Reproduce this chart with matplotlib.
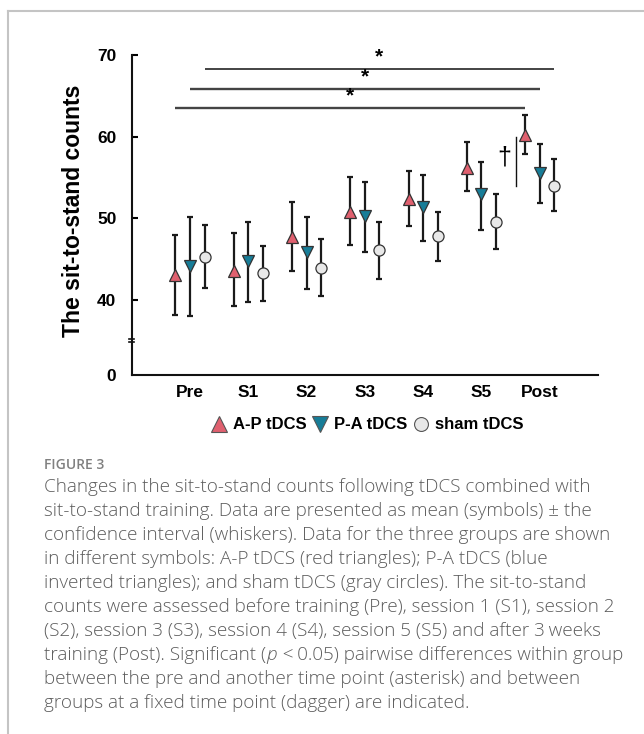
import matplotlib
matplotlib.use("Agg")
import matplotlib.pyplot as plt
from matplotlib.lines import Line2D
import numpy as np

# ---------------- data ----------------
categories = ["Pre", "S1", "S2", "S3", "S4", "S5", "Post"]
groups = ["A-P tDCS", "P-A tDCS", "sham tDCS"]

ap_mean = [43.0, 43.6, 47.7, 50.8, 52.4, 56.2, 60.2]
ap_low = [38.2, 39.2, 43.6, 46.7, 49.1, 53.3, 57.9]
ap_high = [48.0, 48.2, 52.0, 55.1, 55.8, 59.3, 62.6]

pa_mean = [44.2, 44.8, 45.9, 50.3, 51.4, 53.0, 55.6]
pa_low = [38.0, 39.8, 41.3, 45.9, 47.2, 48.6, 51.9]
pa_high = [50.2, 49.6, 50.2, 54.4, 55.3, 56.9, 59.1]

sham_mean = [45.3, 43.3, 43.9, 46.1, 47.8, 49.6, 54.0]
sham_low = [41.5, 39.9, 40.5, 42.6, 44.8, 46.2, 50.9]
sham_high = [49.2, 46.6, 47.4, 49.6, 50.8, 53.0, 57.2]

ytick_values = [40, 50, 60, 70]
ytick_labels = ["40", "50", "60", "70"]
axis_floor_value = 30.8      # position where the broken axis shows "0"
axis_floor_label = "0"
break_value = 35.0

# significance brackets (within group, Pre vs Post)
sig_levels = [63.5, 65.8, 68.25]   # A-P, P-A, sham
dagger_span = (54.0, 60.0)

caption_title = "FIGURE 3"
caption_lines = [
    "Changes in the sit-to-stand counts following tDCS combined with",
    "sit-to-stand training. Data are presented as mean (symbols) \u00b1 the",
    "confidence interval (whiskers). Data for the three groups are shown",
    "in different symbols: A-P tDCS (red triangles); P-A tDCS (blue",
    "inverted triangles); and sham tDCS (gray circles). The sit-to-stand",
    "counts were assessed before training (Pre), session 1 (S1), session 2",
    "(S2), session 3 (S3), session 4 (S4), session 5 (S5) and after 3\u2009weeks",
    ["training (Post). Significant (", "p", "\u2009<\u20090.05) pairwise differences within group"],
    "between the pre and another time point (asterisk) and between",
    "groups at a fixed time point (dagger) are indicated.",
]

# ---------------- style ----------------
W, H = 644, 734
fig = plt.figure(figsize=(W / 100, H / 100), dpi=100)
bold = dict(family=["Liberation Sans", "DejaVu Sans"], weight="bold")

ax_l, ax_r, ax_t, ax_b = 131.7, 598, 55, 375
ax = fig.add_axes([ax_l / W, 1 - ax_b / H, (ax_r - ax_l) / W, (ax_b - ax_t) / H])

x = np.arange(len(categories))
off = 0.25
series = [
    (ap_mean, ap_low, ap_high, -off, "^", "#e0606f"),
    (pa_mean, pa_low, pa_high, 0.0, "v", "#177d98"),
    (sham_mean, sham_low, sham_high, off, "o", "#e8e8e8"),
]
for mean, lo, hi, dx, mk, col in series:
    mean = np.array(mean); lo = np.array(lo); hi = np.array(hi)
    ax.errorbar(x + dx, mean, yerr=[mean - lo, hi - mean], fmt="none",
                ecolor="#1a1a1a", elinewidth=1.6, capsize=2.2, capthick=1.6, zorder=2)
    ax.plot(x + dx, mean, linestyle="none", marker=mk,
            markersize=8.5 if mk != "o" else 8,
            markerfacecolor=col, markeredgecolor="#333333", markeredgewidth=0.9, zorder=3)

# significance lines with asterisks
sig_colors = ["#444444", "#444444", "#111111"]
sig_lw = [1.7, 1.7, 1.1]
for i, (lvl, dx) in enumerate(zip(sig_levels, [-off, 0.0, off])):
    ax.plot([x[0] + dx, x[-1] + dx], [lvl, lvl], color=sig_colors[i], lw=sig_lw[i],
            solid_capstyle="butt", zorder=1)
    ax.text(x[3] + dx, lvl + 0.35, "*", ha="center", va="bottom",
            fontsize=15, **bold)

# dagger between groups at Post
ax.plot([x[-1] - 0.41, x[-1] - 0.41], dagger_span, color="#111111", lw=1.0)
ax.text(x[-1] - 0.61, np.mean(dagger_span) + 0.4, "\u2020", ha="center", va="center",
        fontsize=18, family=["Liberation Sans", "DejaVu Sans"])

ax.set_xlim(-1, 7)
ax.set_ylim(axis_floor_value, 70)
ax.set_xticks(x)
ax.set_xticklabels(categories)
ax.set_yticks([axis_floor_value] + ytick_values)
ax.set_yticklabels([axis_floor_label] + ytick_labels)
for lab in ax.get_xticklabels() + ax.get_yticklabels():
    lab.set_fontfamily(["Liberation Sans", "DejaVu Sans"])
    lab.set_fontweight("bold")
    lab.set_fontsize(12.5)
ax.tick_params(axis="x", length=0, pad=7)
ax.tick_params(axis="y", direction="in", length=4.5, width=1.5, pad=11)
ax.yaxis.get_major_ticks()[0].tick1line.set_visible(False)

for s in ["top", "right"]:
    ax.spines[s].set_visible(False)
for s in ["left", "bottom"]:
    ax.spines[s].set_linewidth(1.5)
    ax.spines[s].set_color("#111111")

ax.set_ylabel("The sit-to-stand counts", fontsize=16.5, **bold)
ax.yaxis.set_label_coords(-0.101, 0.5125)

# axis break mark
ybreak = ax.transAxes.inverted().transform(ax.transData.transform((0, break_value)))[1]
for d in (-0.0045, 0.0045):
    ax.plot([-0.006, 0.006], [ybreak + d, ybreak + d], transform=ax.transAxes,
            color="#111111", lw=1.2, clip_on=False)

# legend
handles = [
    Line2D([], [], linestyle="none", marker="^", markersize=11, markerfacecolor="#e0606f",
           markeredgecolor="#555555", markeredgewidth=0.8),
    Line2D([], [], linestyle="none", marker="v", markersize=11, markerfacecolor="#177d98",
           markeredgecolor="#555555", markeredgewidth=0.8),
    Line2D([], [], linestyle="none", marker="o", markersize=10, markerfacecolor="#e8e8e8",
           markeredgecolor="#555555", markeredgewidth=0.8),
]
fig.legend(handles, groups, loc="center", bbox_to_anchor=(367 / W, 1 - 425 / H),
           ncol=3, frameon=False, handlelength=1.0, handletextpad=0.3,
           columnspacing=0.35, prop=dict(family=["Liberation Sans", "DejaVu Sans"],
                                          weight="bold", size=12))

# frame lines
fig.add_artist(Line2D([8 / W, 1], [1 - 11 / H, 1 - 11 / H], color="#c4c4c4", lw=1.5))
fig.add_artist(Line2D([8 / W, 8 / W], [0, 1 - 11 / H], color="#c4c4c4", lw=1.5))

# caption
cap_font = ["Open Sans", "DejaVu Sans"]
cap_color = "#5c5c5c"
cap_weight = "light"
cap_x = 44.5 / W
fig.text(cap_x, 1 - 465 / H, caption_title, ha="left", va="center", fontsize=10,
         family=cap_font, color="#808080", weight="semibold")
fig.canvas.draw()
renderer = fig.canvas.get_renderer()

# size caption font so that the first line spans its width in the reference
probe = fig.text(0, 0, caption_lines[0], fontsize=10, family=cap_font, weight=cap_weight)
pw = probe.get_window_extent(renderer).width
probe.remove()
cap_size = 10 * 545.0 / pw

y0, dy = 486.7, 24.03
for i, line in enumerate(caption_lines):
    yy = 1 - (y0 + i * dy) / H
    if isinstance(line, str):
        fig.text(cap_x, yy, line, ha="left", va="center", fontsize=cap_size,
                 family=cap_font, color=cap_color, weight=cap_weight)
    else:
        xx = cap_x
        for j, part in enumerate(line):
            t = fig.text(xx, yy, part, ha="left", va="center", fontsize=cap_size,
                         family=cap_font, color=cap_color, weight=cap_weight,
                         style="italic" if j == 1 else "normal")
            bb = t.get_window_extent(renderer)
            xx = bb.x1 / W + (0.002 if j == 1 else 0)

fig.savefig("out.png", dpi=100)
